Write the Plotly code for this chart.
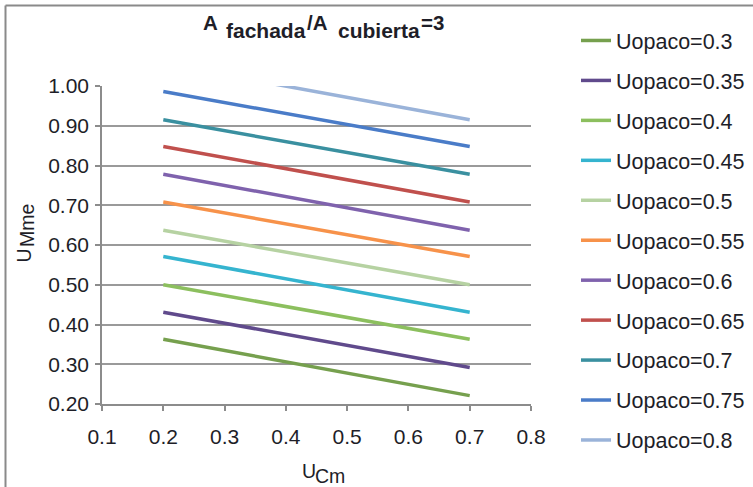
import plotly.graph_objects as go

# ---- data ----
uc_values = [0.2, 0.7]
series_names = ["Uopaco=0.3", "Uopaco=0.35", "Uopaco=0.4", "Uopaco=0.45", "Uopaco=0.5",
                "Uopaco=0.55", "Uopaco=0.6", "Uopaco=0.65", "Uopaco=0.7", "Uopaco=0.75",
                "Uopaco=0.8"]
u03 = [0.363, 0.221]
u035 = [0.431, 0.292]
u04 = [0.500, 0.363]
u045 = [0.571, 0.431]
u05 = [0.637, 0.500]
u055 = [0.708, 0.571]
u06 = [0.778, 0.637]
u065 = [0.848, 0.708]
u07 = [0.915, 0.778]
u075 = [0.986, 0.848]
u08 = [1.056, 0.915]
series_values = [u03, u035, u04, u045, u05, u055, u06, u065, u07, u075, u08]
colors = ["#76a04e", "#604a8c", "#8cbf5e", "#35b4cf", "#b6d2a2", "#f7924a",
          "#7f62ad", "#c0504d", "#3a90a0", "#4a7cc8", "#9ab3d9"]
y_ticks = [0.2, 0.3, 0.4, 0.5, 0.6, 0.7, 0.8, 0.9, 1.0]
x_ticks = [0.1, 0.2, 0.3, 0.4, 0.5, 0.6, 0.7, 0.8]

FONT = "Liberation Sans, Arial, sans-serif"
TXT = "#1e1e28"

W, H = 753, 487
L, R, T, B = 102, 222, 86, 83
pw, ph = W - L - R, H - T - B

def px(xp):
    return (xp - L) / pw

def py(yp):
    return (H - B - yp) / ph

fig = go.Figure()
for i, (name, vals, col) in enumerate(zip(series_names, series_values, colors)):
    fig.add_trace(go.Scatter(
        x=uc_values, y=vals, mode="lines", name=name,
        line=dict(color=col, width=3.5),
        legendgroup=f"g{i}",
    ))

def ann(text, x, y, size, bold=False, angle=0, xanchor="left"):
    return dict(text=f"<b>{text}</b>" if bold else text,
                x=px(x), y=py(y), xref="paper", yref="paper",
                xanchor=xanchor, yanchor="middle", textangle=angle,
                showarrow=False, font=dict(size=size, color=TXT, family=FONT))

annotations = [
    ann("A", 201, 23, 20.5, bold=True),
    ann("fachada", 224, 31, 21, bold=True),
    ann("/A", 305, 23, 20.5, bold=True),
    ann("cubierta", 336, 31, 21, bold=True),
    ann("=3", 419, 23, 20.5, bold=True),
    ann("U", 300, 471, 19.5),
    ann("Cm", 313, 476, 19.5),
    ann("U", 23.5, 256, 19.5, angle=-90, xanchor="center"),
    ann("Mme", 27, 226, 19.5, angle=-90, xanchor="center"),
]

fig.update_layout(
    width=W, height=H,
    margin=dict(l=L, r=R, t=T, b=B, autoexpand=False),
    plot_bgcolor="white", paper_bgcolor="white",
    font=dict(family=FONT, size=21, color=TXT),
    showlegend=True,
    legend=dict(
        x=px(576), y=py(20), xanchor="left", yanchor="top",
        font=dict(size=21.5, color=TXT),
        tracegroupgap=9,
        traceorder="grouped",
        maxheight=480,
        bgcolor="rgba(0,0,0,0)",
    ),
    xaxis=dict(
        range=[0.1, 0.8], tickvals=x_ticks, ticktext=[f"{v:.1f}" for v in x_ticks],
        showgrid=False, zeroline=False,
        showline=True, linecolor="#8c8c8c", linewidth=1.5,
        ticks="outside", ticklen=5, tickcolor="#8c8c8c", tickwidth=1.5,
        ticklabelstandoff=8,
        tickfont=dict(size=21, color=TXT),
    ),
    yaxis=dict(
        range=[0.2, 1.0], tickvals=y_ticks, ticktext=[f"{v:.2f}" for v in y_ticks],
        showgrid=True, gridcolor="#9a9a9a", gridwidth=1.5,
        zeroline=False,
        showline=True, linecolor="#8c8c8c", linewidth=1.5,
        ticks="outside", ticklen=5, tickcolor="#8c8c8c", tickwidth=1.5,
        ticklabelstandoff=2,
        tickfont=dict(size=21, color=TXT),
    ),
    annotations=annotations,
    shapes=[
        dict(type="line", xref="paper", yref="paper",
             x0=px(5.5), y0=py(5.5), x1=px(760), y1=py(5.5),
             line=dict(color="#8a8a8a", width=2)),
        dict(type="line", xref="paper", yref="paper",
             x0=px(5.5), y0=py(5.5), x1=px(5.5), y1=py(495),
             line=dict(color="#8a8a8a", width=2)),
    ],
)

fig.write_html("out.html", config={"displayModeBar": False},
               post_script="document.body.style.margin='0';")
